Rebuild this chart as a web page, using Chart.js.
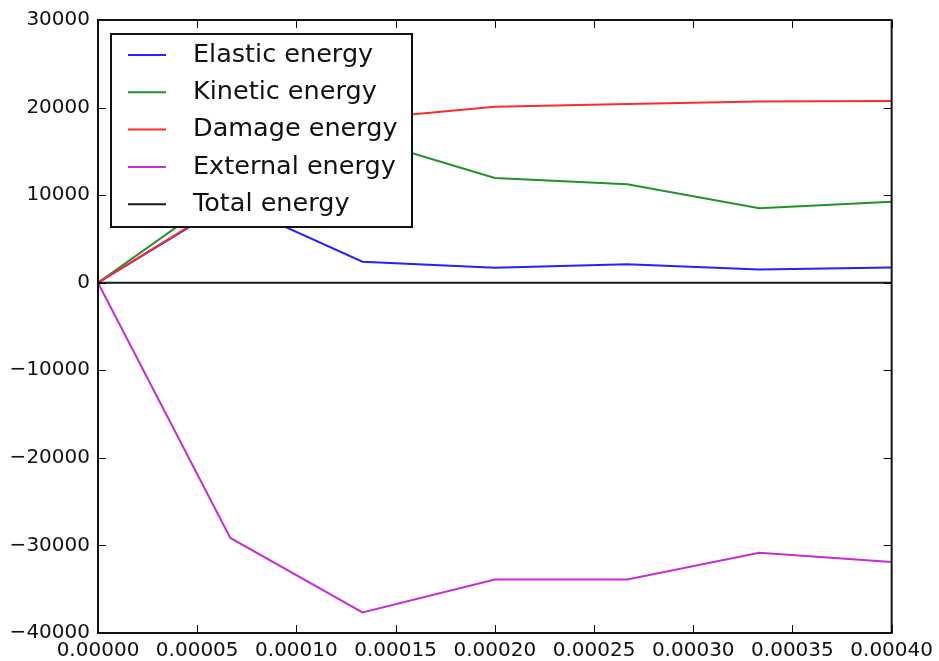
<!DOCTYPE html>
<html>
<head>
<meta charset="utf-8">
<title>Energy history</title>
<script src="https://cdn.jsdelivr.net/npm/chart.js@4.4.0/dist/chart.umd.min.js"></script>
<style>
  body { margin: 0; background: #fff; }
  #energyChart { display: block; }
</style>
</head>
<body>
<canvas id="energyChart" width="939" height="661"></canvas>
<script>
// output times (s)
const times = [0, 0.0000667, 0.0001333, 0.0002, 0.0002667, 0.0003333, 0.0004];

// energies at each output time
const elastic  = [0, 9200, 2400, 1700, 2100, 1500, 1750];
const kinetic  = [0, 10700, 16500, 11950, 11250, 8500, 9250];
const damage   = [0, 9350, 18700, 20100, 20400, 20700, 20750];
const external = [0, -29150, -37650, -33900, -33900, -30850, -31900];
const total    = [0, 0, 0, 0, 0, 0, 0];

const seriesNames = ['Elastic energy', 'Kinetic energy', 'Damage energy', 'External energy', 'Total energy'];
const seriesColors = ['#2222ff', '#22922a', '#ff2a2a', '#c52fd2', '#1a1a1a'];

const xTicks = [0, 0.00005, 0.0001, 0.00015, 0.0002, 0.00025, 0.0003, 0.00035, 0.0004];
const yTicks = [-40000, -30000, -20000, -10000, 0, 10000, 20000, 30000];

const FONT = 'DejaVu Sans';

function points(vals) {
  return vals.map((v, i) => ({ x: times[i], y: v }));
}

const allSeries = [elastic, kinetic, damage, external, total];
const datasets = allSeries.map((vals, i) => ({
  label: seriesNames[i],
  data: points(vals),
  borderColor: seriesColors[i],
  backgroundColor: seriesColors[i],
  borderWidth: 2,
  pointRadius: 0,
  fill: false,
  // later series sit on top
  order: allSeries.length - 1 - i
}));

// box frame, inward ticks on every side, and the boxed legend
const frameAndLegend = {
  id: 'frameAndLegend',
  afterDatasetsDraw(chart) {
    const { ctx, chartArea: a, scales: { x, y } } = chart;
    ctx.save();

    ctx.strokeStyle = '#000';
    ctx.lineWidth = 1;
    ctx.beginPath();
    xTicks.forEach(v => {
      const px = Math.round(x.getPixelForValue(v)) + 0.5;
      ctx.moveTo(px, a.bottom); ctx.lineTo(px, a.bottom - 8);
      ctx.moveTo(px, a.top); ctx.lineTo(px, a.top + 8);
    });
    yTicks.forEach(v => {
      const py = Math.round(y.getPixelForValue(v)) + 0.5;
      ctx.moveTo(a.left, py); ctx.lineTo(a.left + 8, py);
      ctx.moveTo(a.right, py); ctx.lineTo(a.right - 8, py);
    });
    ctx.stroke();

    ctx.lineWidth = 2;
    ctx.strokeStyle = '#111';
    ctx.strokeRect(a.left, a.top, a.right - a.left, a.bottom - a.top);

    // legend
    const bx = a.left + 13, by = a.top + 14, bw = 301, bh = 193;
    ctx.fillStyle = '#fff';
    ctx.fillRect(bx, by, bw, bh);
    ctx.strokeRect(bx, by, bw, bh);
    ctx.font = '25.5px "' + FONT + '"';
    ctx.textBaseline = 'middle';
    ctx.textAlign = 'left';
    chart.data.datasets.forEach((ds, i) => {
      const ry = by + 21 + i * 37.3;
      ctx.strokeStyle = ds.borderColor;
      ctx.lineWidth = 2;
      ctx.beginPath();
      ctx.moveTo(bx + 17, ry); ctx.lineTo(bx + 55, ry);
      ctx.stroke();
      ctx.fillStyle = '#111';
      ctx.fillText(ds.label, bx + 82, ry);
    });
    ctx.restore();
  }
};

new Chart('energyChart', {
  type: 'line',
  data: { datasets: datasets },
  options: {
    responsive: false,
    animation: false,
    layout: { padding: { top: 17, right: 45, left: 0, bottom: 0 } },
    plugins: { legend: { display: false }, tooltip: { enabled: false } },
    scales: {
      x: {
        type: 'linear',
        min: 0,
        max: 0.0004,
        afterFit: s => { s.height = 28; },
        afterBuildTicks: s => { s.ticks = xTicks.map(v => ({ value: v })); },
        grid: { display: false, drawTicks: false },
        border: { display: false },
        ticks: {
          padding: 6,
          color: '#111',
          font: { family: FONT, size: 20 },
          maxRotation: 0,
          autoSkip: false,
          callback: v => v.toFixed(5)
        }
      },
      y: {
        type: 'linear',
        min: -40000,
        max: 30000,
        afterFit: s => { s.width = 98; },
        afterBuildTicks: s => { s.ticks = yTicks.map(v => ({ value: v })); },
        grid: { display: false, drawTicks: false },
        border: { display: false },
        ticks: {
          padding: 8,
          color: '#111',
          font: { family: FONT, size: 20 },
          autoSkip: false,
          callback: v => String(v).replace('-', '\u2212')
        }
      }
    }
  },
  plugins: [frameAndLegend]
});
</script>
</body>
</html>
